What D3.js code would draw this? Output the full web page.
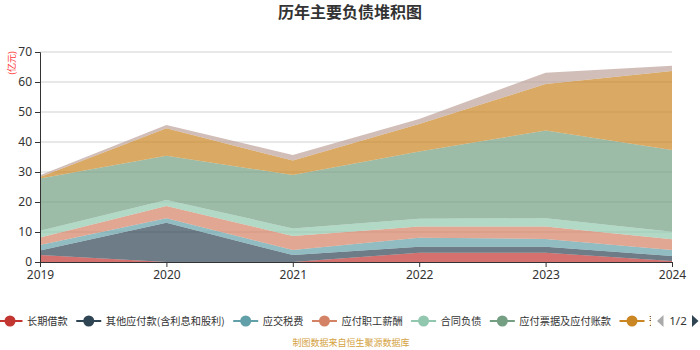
<!DOCTYPE html>
<html>
<head>
<meta charset="utf-8">
<script src="https://cdn.jsdelivr.net/npm/d3@7"></script>
<style>
  body { margin: 0; background: #fff; }
  svg { font-family: "Noto Sans CJK SC", "Noto Sans", sans-serif; }
</style>
</head>
<body>
<div id="chart"></div>
<script>
// years on the x axis
const years = ["2019", "2020", "2021", "2022", "2023", "2024"];
const yTicks = [0, 10, 20, 30, 40, 50, 60, 70];

// series names (stack order, bottom first)
const seriesNames = ["长期借款", "其他应付款(含利息和股利)", "应交税费", "应付职工薪酬",
                     "合同负债", "应付票据及应付账款", "预收款项", "短期借款"];
const seriesColors = ["#c23531", "#2f4554", "#61a0a8", "#d48265",
                      "#91c7ae", "#749f83", "#ca8622", "#bda29a"];

// values in 亿元
const longLoan     = [2.3, 0.0, 0.0, 3.1, 3.1, 0.3];
const otherPay     = [1.5, 13.1, 2.3, 2.0, 2.0, 1.7];
const taxPay       = [1.9, 1.5, 1.7, 3.0, 2.6, 2.0];
const salaryPay    = [2.5, 4.1, 4.7, 3.7, 4.1, 3.6];
const contractDebt = [2.2, 2.0, 2.5, 2.6, 2.8, 2.5];
const notesPay     = [17.4, 14.7, 17.8, 22.4, 29.2, 27.2];
const advanceRecv  = [0.5, 9.2, 4.8, 9.2, 15.5, 26.4];
const shortLoan    = [0.6, 1.1, 1.9, 1.7, 3.8, 1.7];

const seriesValues = [longLoan, otherPay, taxPay, salaryPay, contractDebt, notesPay, advanceRecv, shortLoan];

const W = 700, H = 350;
const margin = { top: 52, right: 28, bottom: 88, left: 40 };
const width = W - margin.left - margin.right;
const height = H - margin.top - margin.bottom;

const svg = d3.select("#chart").append("svg")
    .attr("width", W).attr("height", H);

// title
svg.append("text")
    .attr("x", W / 2).attr("y", 18)
    .attr("text-anchor", "middle")
    .style("font-size", "16px").style("font-weight", "bold")
    .style("fill", "#333")
    .text("历年主要负债堆积图");

const g = svg.append("g").attr("transform", `translate(${margin.left},${margin.top})`);

const x = d3.scalePoint().domain(years).range([0, width]);
const y = d3.scaleLinear().domain([0, 70]).range([height, 0]);

// grid lines
g.selectAll(".grid").data(yTicks.slice(1)).enter().append("line")
    .attr("x1", 0).attr("x2", width)
    .attr("y1", d => y(d)).attr("y2", d => y(d))
    .attr("stroke", "#e0e0e0").attr("stroke-width", 1.5);

// stacked data
const rows = years.map((yr, i) => {
    const r = { year: yr };
    seriesNames.forEach((n, k) => { r[n] = seriesValues[k][i]; });
    return r;
});
const stacked = d3.stack().keys(seriesNames)(rows);

const area = d3.area()
    .x(d => x(d.data.year))
    .y0(d => y(d[0]))
    .y1(d => y(d[1]));

g.selectAll(".layer").data(stacked).enter().append("path")
    .attr("d", area)
    .attr("fill", (d, i) => seriesColors[i])
    .attr("fill-opacity", 0.7);

// axes
const yAxis = g.append("g").call(d3.axisLeft(y).tickValues(yTicks).tickSize(5).tickPadding(3));
yAxis.select(".domain").attr("stroke", "#333");
yAxis.selectAll(".tick line").attr("stroke", "#333");
yAxis.selectAll("text").style("font-size", "12px").style("fill", "#333")
    .style("font-family", "'Noto Sans', sans-serif");

const xAxis = g.append("g").attr("transform", `translate(0,${height})`)
    .call(d3.axisBottom(x).tickSize(5).tickPadding(3));
xAxis.select(".domain").attr("stroke", "#333");
xAxis.selectAll(".tick line").attr("stroke", "#333");
xAxis.selectAll("text").style("font-size", "12px").style("fill", "#333")
    .style("font-family", "'Noto Sans', sans-serif");

// unit label
svg.append("text")
    .attr("transform", "translate(15,63) rotate(-90)")
    .attr("text-anchor", "middle")
    .style("font-size", "9px").style("fill", "#f33")
    .text("(亿元)");

// legend (page 1 of 2, last item cut off by the pager)
svg.append("clipPath").attr("id", "legclip")
    .append("rect").attr("x", 0).attr("y", 300).attr("width", 651).attr("height", 40);
const leg = svg.append("g").attr("clip-path", "url(#legclip)");
const legY = 321;
let lx = -2.5;
seriesNames.slice(0, 7).forEach((name, i) => {
    const it = leg.append("g");
    it.append("line")
        .attr("x1", lx).attr("x2", lx + 25)
        .attr("y1", legY).attr("y2", legY)
        .attr("stroke", seriesColors[i]).attr("stroke-width", 2);
    it.append("circle")
        .attr("cx", lx + 12.5).attr("cy", legY).attr("r", 5.5)
        .attr("fill", seriesColors[i]);
    const label = i === 6 ? name.slice(0, 1) : name; // only a sliver shows on page 1
    const t = it.append("text")
        .attr("x", lx + 29.5).attr("y", legY + 4)
        .style("font-size", "10.2px").style("fill", "#333")
        .text(label);
    lx += 29.5 + t.node().getComputedTextLength() + 8.5;
});

// pager
svg.append("path").attr("d", "M663.5,315 L657,321 L663.5,327 Z").attr("fill", "#aaa");
svg.append("text").attr("x", 678).attr("y", 325).attr("text-anchor", "middle")
    .style("font-size", "11.5px").style("fill", "#333")
    .style("font-family", "'Noto Sans', sans-serif").text("1/2");
svg.append("path").attr("d", "M692,315 L698.5,321 L692,327 Z").attr("fill", "#2f4554");

// source
svg.append("text")
    .attr("x", W / 2 + 1).attr("y", 346)
    .attr("text-anchor", "middle")
    .style("font-size", "9px").style("fill", "#d4a240")
    .text("制图数据来自恒生聚源数据库");
</script>
</body>
</html>
